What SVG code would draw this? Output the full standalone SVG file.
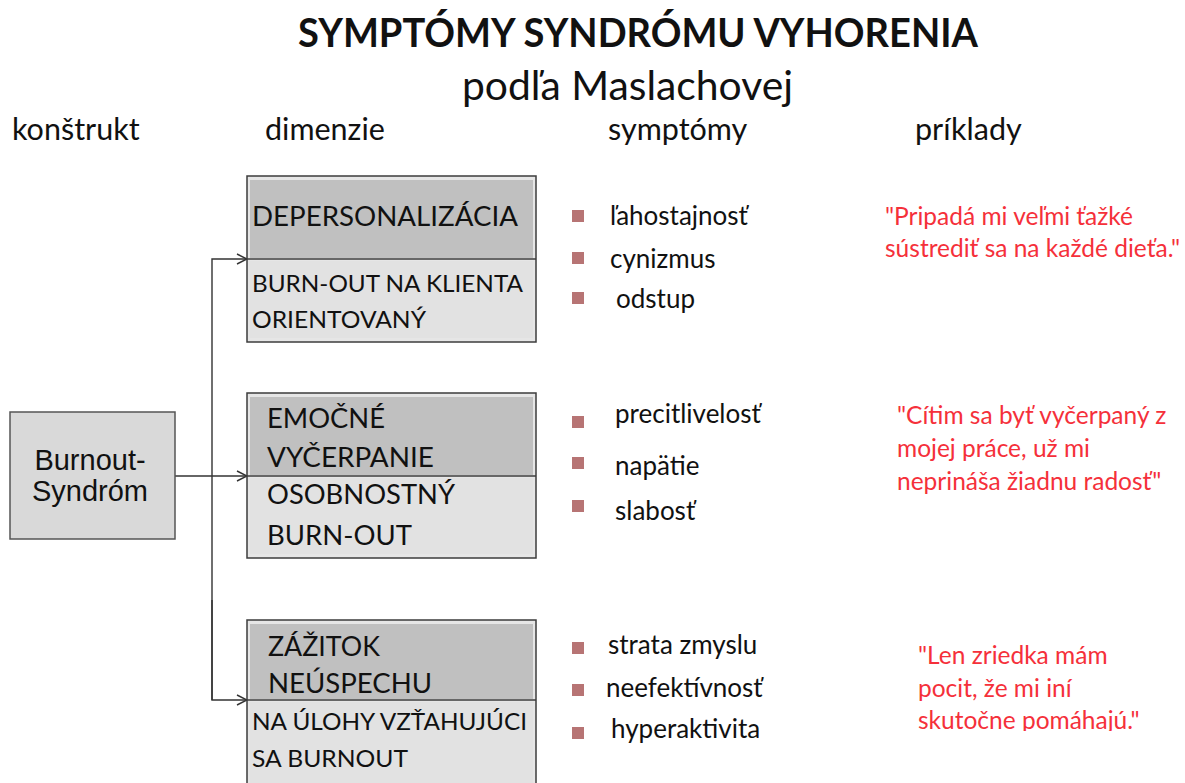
<svg xmlns="http://www.w3.org/2000/svg" width="1185" height="783" viewBox="0 0 1185 783">
<style>
.t{font-family:Lato,"Open Sans","Liberation Sans",sans-serif;fill:#111}
.title{font-size:40px;font-weight:bold}
.sub{font-size:40.5px}
.hdr{font-size:30.5px}
.bxa{font-size:27px}
.bxb{font-size:24px}
.sym{font-size:26px}
.q{font-family:Lato,"Open Sans","Liberation Sans",sans-serif;font-size:24.5px;fill:#f5303a}
.outer{fill:#e6e6e6;stroke:#3c3c3c;stroke-width:1.5}
.dark{fill:#c0c0c0}
.light{fill:#e2e2e2}
.div{stroke:#3c3c3c;stroke-width:1.5}
.bul{fill:#b77474}
.con{fill:none;stroke:#333;stroke-width:1.4}
</style>
<defs>
<marker id="arr" markerWidth="12" markerHeight="12" refX="11" refY="6" orient="auto" markerUnits="userSpaceOnUse">
<path d="M1,1 L11,6 L1,11" fill="none" stroke="#333" stroke-width="1.4"/>
</marker>
<clipPath id="clipq"><rect x="880" y="600" width="305" height="131"/></clipPath>
</defs>
<rect width="1185" height="783" fill="#fff"/>
<g id="titles">
<text class="t title" x="298" y="47" textLength="680" lengthAdjust="spacingAndGlyphs">SYMPTÓMY SYNDRÓMU VYHORENIA</text>
<text class="t sub" x="462" y="100" textLength="331" lengthAdjust="spacingAndGlyphs">podľa Maslachovej</text>
<text class="t hdr" x="12" y="140">konštrukt</text>
<text class="t hdr" x="265" y="140">dimenzie</text>
<text class="t hdr" x="608" y="140">symptómy</text>
<text class="t hdr" x="915" y="140">príklady</text>
</g>
<g id="connectors">
<path class="con" d="M212,700 L212,259 L247,259" marker-end="url(#arr)"/>
<path class="con" d="M175,476 L247,476" marker-end="url(#arr)"/>
<path class="con" d="M212,600 L212,700 L247,700" marker-end="url(#arr)"/>
</g>
<g id="burnout">
<rect x="10" y="412" width="165" height="127" fill="#d9d9d9" stroke="#555" stroke-width="1.5"/>
<text x="90" y="470" text-anchor="middle" font-family="'Liberation Sans',Arial,sans-serif" font-size="29" fill="#111">Burnout-</text>
<text x="90" y="501" text-anchor="middle" font-family="'Liberation Sans',Arial,sans-serif" font-size="29" fill="#111">Syndróm</text>
</g>
<g id="dim1">
<rect class="outer" x="247" y="176" width="289" height="166"/>
<rect class="dark" x="250" y="180" width="283" height="78"/>
<rect class="light" x="250" y="261" width="283" height="77"/>
<line class="div" x1="247" y1="259" x2="536" y2="259"/>
<text class="t bxa" x="252" y="226" textLength="266" lengthAdjust="spacingAndGlyphs">DEPERSONALIZÁCIA</text>
<text class="t bxb" x="252" y="292" textLength="271" lengthAdjust="spacingAndGlyphs">BURN-OUT NA KLIENTA</text>
<text class="t bxb" x="252" y="328" textLength="174" lengthAdjust="spacingAndGlyphs">ORIENTOVANÝ</text>
</g>
<g id="dim2">
<rect class="outer" x="247" y="393" width="289" height="165"/>
<rect class="dark" x="250" y="397" width="283" height="78"/>
<rect class="light" x="250" y="478" width="283" height="76"/>
<line class="div" x1="247" y1="476" x2="536" y2="476"/>
<text class="t bxa" x="267" y="428" textLength="118" lengthAdjust="spacingAndGlyphs">EMOČNÉ</text>
<text class="t bxa" x="267" y="467" textLength="167" lengthAdjust="spacingAndGlyphs">VYČERPANIE</text>
<text class="t bxa" x="267" y="504" textLength="188" lengthAdjust="spacingAndGlyphs">OSOBNOSTNÝ</text>
<text class="t bxa" x="267" y="545" textLength="145" lengthAdjust="spacingAndGlyphs">BURN-OUT</text>
</g>
<g id="dim3">
<rect class="outer" x="247" y="620" width="289" height="175"/>
<rect class="dark" x="250" y="624" width="283" height="75"/>
<rect class="light" x="250" y="702" width="283" height="90"/>
<line class="div" x1="247" y1="700" x2="536" y2="700"/>
<text class="t bxa" x="268" y="656" textLength="112" lengthAdjust="spacingAndGlyphs">ZÁŽITOK</text>
<text class="t bxa" x="268" y="693" textLength="164" lengthAdjust="spacingAndGlyphs">NEÚSPECHU</text>
<text class="t bxb" x="252" y="730" textLength="275" lengthAdjust="spacingAndGlyphs">NA ÚLOHY VZŤAHUJÚCI</text>
<text class="t bxb" x="252" y="767" textLength="156" lengthAdjust="spacingAndGlyphs">SA BURNOUT</text>
</g>
<g id="symptoms1">
<rect class="bul" x="572" y="210" width="12" height="12"/>
<rect class="bul" x="572" y="252" width="12" height="12"/>
<rect class="bul" x="572" y="292" width="12" height="12"/>
<text class="t sym" x="610" y="225">ľahostajnosť</text>
<text class="t sym" x="610" y="268">cynizmus</text>
<text class="t sym" x="616" y="308">odstup</text>
</g>
<g id="symptoms2">
<rect class="bul" x="572" y="416" width="12" height="12"/>
<rect class="bul" x="572" y="457" width="12" height="12"/>
<rect class="bul" x="572" y="500" width="12" height="12"/>
<text class="t sym" x="615" y="423">precitlivelosť</text>
<text class="t sym" x="615" y="475">napätie</text>
<text class="t sym" x="615" y="520">slabosť</text>
</g>
<g id="symptoms3">
<rect class="bul" x="572" y="642" width="12" height="12"/>
<rect class="bul" x="572" y="684" width="12" height="12"/>
<rect class="bul" x="572" y="727" width="12" height="12"/>
<text class="t sym" x="608" y="654">strata zmyslu</text>
<text class="t sym" x="606" y="697">neefektívnosť</text>
<text class="t sym" x="611" y="738">hyperaktivita</text>
</g>
<g id="examples">
<text class="q" x="885" y="225">"Pripadá mi veľmi ťažké</text>
<text class="q" x="885" y="257">sústrediť sa na každé dieťa."</text>
<text class="q" x="897" y="424">"Cítim sa byť vyčerpaný z</text>
<text class="q" x="897" y="457">mojej práce, už mi</text>
<text class="q" x="897" y="490">neprináša žiadnu radosť"</text>
<g clip-path="url(#clipq)">
<text class="q" x="918" y="664">"Len zriedka mám</text>
<text class="q" x="918" y="697">pocit, že mi iní</text>
<text class="q" x="918" y="729">skutočne pomáhajú."</text>
</g>
</g>
</svg>
